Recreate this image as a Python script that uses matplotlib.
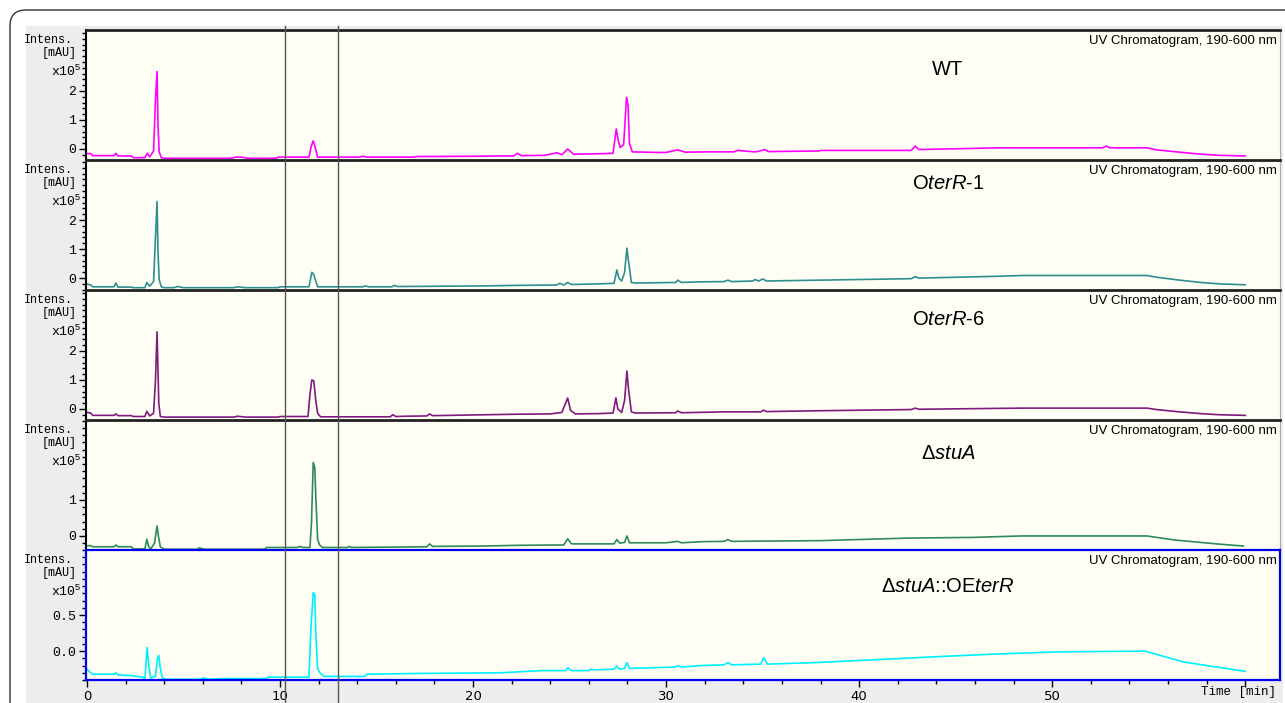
import matplotlib.pyplot as plt
import matplotlib.transforms as mtransforms
from matplotlib.patches import Rectangle, FancyBboxPatch
from matplotlib.lines import Line2D
from matplotlib.ticker import MultipleLocator, FormatStrFormatter

plt.rcParams['mathtext.fontset'] = 'custom'
plt.rcParams['mathtext.rm'] = 'Liberation Sans'
plt.rcParams['mathtext.it'] = 'Liberation Sans:italic'

# chromatogram traces, (time [min], intensity [x10^5 mAU])
wt = [(0.0, -0.16), (0.2, -0.16), (0.3, -0.23), (1.4, -0.23), (1.5, -0.15), (1.6, -0.24),
      (2.3, -0.24), (2.4, -0.30), (3.0, -0.30), (3.12, -0.15), (3.25, -0.27), (3.45, -0.07),
      (3.55, 1.72), (3.63, 2.67), (3.68, 0.83), (3.74, -0.1), (3.85, -0.30), (4.0, -0.32),
      (7.5, -0.32), (7.7, -0.28), (8.0, -0.28), (8.3, -0.32), (9.8, -0.32), (9.9, -0.28),
      (11.5, -0.28), (11.62, 0.10), (11.72, 0.28), (11.8, 0.1), (11.95, -0.28), (14.1, -0.28),
      (14.3, -0.25), (14.5, -0.28), (16.9, -0.28), (17.1, -0.26), (20.5, -0.25), (21.4, -0.24),
      (22.1, -0.24), (22.3, -0.15), (22.5, -0.23), (23.7, -0.22), (24.35, -0.13), (24.6, -0.2),
      (24.9, 0.0), (25.2, -0.18), (26.2, -0.17), (27.25, -0.15), (27.42, 0.69), (27.52, 0.3),
      (27.62, 0.05), (27.8, 0.15), (27.95, 1.78), (28.03, 1.5), (28.1, 0.2), (28.25, -0.1),
      (29.6, -0.12), (30.0, -0.12), (30.6, -0.03), (31.0, -0.11), (32.1, -0.1), (33.5, -0.1),
      (33.7, -0.05), (34.6, -0.1), (34.8, -0.08), (35.1, -0.02), (35.3, -0.09), (37.9, -0.07),
      (38.0, -0.05), (42.7, -0.05), (42.9, 0.1), (43.1, -0.02), (47.3, 0.04), (52.6, 0.04),
      (52.8, 0.1), (53.0, 0.04), (54.9, 0.04), (55.4, -0.03), (56.6, -0.11), (57.7, -0.18),
      (58.7, -0.22), (60.0, -0.24)]

oterr1 = [(0.0, -0.2), (0.2, -0.24), (0.3, -0.3), (1.4, -0.3), (1.5, -0.17), (1.6, -0.31),
          (2.3, -0.31), (2.4, -0.33), (3.0, -0.33), (3.1, -0.15), (3.25, -0.28), (3.45, -0.12),
          (3.55, 1.42), (3.63, 2.64), (3.68, 0.9), (3.74, -0.05), (3.85, -0.3), (4.0, -0.33),
          (4.5, -0.33), (4.7, -0.29), (5.0, -0.33), (7.6, -0.33), (7.8, -0.3), (8.2, -0.33),
          (9.9, -0.33), (10.0, -0.3), (11.5, -0.3), (11.65, 0.2), (11.75, 0.12), (11.85, -0.1),
          (11.95, -0.3), (14.3, -0.3), (14.4, -0.27), (14.6, -0.3), (15.8, -0.3), (15.9, -0.25),
          (16.1, -0.29), (20.5, -0.27), (22.3, -0.25), (24.3, -0.24), (24.5, -0.18), (24.7, -0.24),
          (24.9, -0.15), (25.1, -0.22), (26.5, -0.2), (27.3, -0.18), (27.45, 0.28), (27.55, 0.0),
          (27.7, -0.1), (27.85, 0.2), (27.97, 1.03), (28.05, 0.6), (28.2, -0.15), (28.4, -0.17),
          (30.5, -0.15), (30.6, -0.07), (30.8, -0.15), (31.7, -0.13), (33.0, -0.12), (33.2, -0.07),
          (33.4, -0.12), (34.5, -0.1), (34.6, -0.05), (34.8, -0.1), (35.0, -0.03), (35.2, -0.1),
          (38.0, -0.07), (42.7, -0.02), (42.9, 0.05), (43.1, 0.0), (47.0, 0.06), (48.5, 0.09),
          (54.9, 0.09), (55.4, 0.03), (56.6, -0.07), (57.7, -0.15), (58.7, -0.2), (60.0, -0.23)]

oterr6 = [(0.0, -0.12), (0.2, -0.14), (0.3, -0.22), (1.4, -0.22), (1.5, -0.17), (1.6, -0.23),
          (2.3, -0.23), (2.4, -0.26), (3.0, -0.26), (3.1, -0.08), (3.25, -0.24), (3.45, -0.15),
          (3.55, 1.0), (3.63, 2.66), (3.68, 1.3), (3.72, 0.2), (3.8, -0.26), (4.0, -0.28),
          (7.6, -0.28), (7.8, -0.25), (8.2, -0.28), (9.9, -0.28), (10.0, -0.26), (11.45, -0.26),
          (11.55, 0.5), (11.65, 1.0), (11.75, 0.97), (11.85, 0.3), (11.95, -0.15), (12.1, -0.27),
          (15.7, -0.27), (15.85, -0.2), (16.0, -0.26), (16.5, -0.25), (17.6, -0.24), (17.75, -0.17),
          (17.9, -0.23), (20.5, -0.2), (22.3, -0.18), (24.0, -0.17), (24.6, -0.12), (24.9, 0.38),
          (25.05, -0.05), (25.3, -0.17), (26.5, -0.16), (27.25, -0.14), (27.4, 0.38), (27.5, 0.0),
          (27.7, -0.12), (27.85, 0.3), (27.97, 1.31), (28.05, 0.7), (28.2, -0.1), (28.4, -0.14),
          (30.5, -0.13), (30.6, -0.07), (30.8, -0.13), (33.0, -0.1), (34.9, -0.1), (35.05, -0.04),
          (35.2, -0.09), (38.0, -0.06), (42.7, -0.02), (42.9, 0.03), (43.1, -0.01), (48.5, 0.03),
          (54.9, 0.03), (55.4, -0.02), (56.6, -0.1), (57.7, -0.16), (58.7, -0.2), (60.0, -0.22)]

dstua = [(0.0, -0.27), (0.2, -0.27), (0.3, -0.3), (1.4, -0.3), (1.5, -0.25), (1.6, -0.3),
         (2.3, -0.3), (2.4, -0.36), (3.0, -0.36), (3.1, -0.09), (3.2, -0.3), (3.3, -0.36),
         (3.5, -0.2), (3.63, 0.28), (3.7, 0.0), (3.8, -0.3), (4.0, -0.37), (5.7, -0.37),
         (5.8, -0.33), (6.1, -0.37), (9.2, -0.37), (9.3, -0.32), (10.9, -0.32), (11.0, -0.29),
         (11.2, -0.32), (11.55, -0.32), (11.63, 0.36), (11.72, 2.04), (11.8, 1.9), (11.85, 1.14),
         (11.95, -0.1), (12.05, -0.25), (12.2, -0.32), (13.5, -0.32), (13.6, -0.29), (13.7, -0.32),
         (17.6, -0.3), (17.75, -0.22), (17.9, -0.29), (20.5, -0.28), (22.3, -0.26), (24.7, -0.25),
         (24.9, -0.08), (25.1, -0.22), (27.3, -0.22), (27.45, -0.1), (27.6, -0.2), (27.85, -0.18),
         (27.97, 0.0), (28.1, -0.19), (30.0, -0.19), (30.6, -0.15), (30.8, -0.19), (31.8, -0.16),
         (33.0, -0.15), (33.2, -0.1), (33.4, -0.15), (38.0, -0.13), (42.5, -0.06), (45.9, -0.04),
         (48.4, 0.0), (54.9, 0.0), (56.3, -0.11), (58.5, -0.22), (59.9, -0.28)]

dstua_oe = [(0.0, -0.25), (0.15, -0.29), (0.3, -0.32), (1.4, -0.32), (1.5, -0.3), (1.6, -0.33),
            (2.3, -0.34), (2.9, -0.36), (3.0, -0.39), (3.05, -0.2), (3.12, 0.05), (3.2, -0.2),
            (3.3, -0.37), (3.55, -0.35), (3.65, -0.1), (3.72, -0.06), (3.78, -0.2), (3.9, -0.37),
            (4.1, -0.39), (5.9, -0.39), (6.0, -0.37), (6.3, -0.39), (7.0, -0.38), (9.3, -0.38),
            (9.4, -0.36), (11.5, -0.36), (11.6, 0.3), (11.72, 0.81), (11.8, 0.78), (11.85, 0.27),
            (11.95, -0.25), (12.1, -0.31), (12.3, -0.35), (14.4, -0.35), (14.5, -0.32), (17.0, -0.31),
            (21.4, -0.30), (23.6, -0.27), (24.8, -0.27), (24.9, -0.23), (25.1, -0.27), (26.0, -0.27),
            (26.1, -0.25), (26.3, -0.26), (27.3, -0.25), (27.45, -0.21), (27.6, -0.25), (27.85, -0.24),
            (27.97, -0.16), (28.1, -0.24), (30.5, -0.22), (30.6, -0.2), (30.8, -0.22), (31.8, -0.2),
            (33.0, -0.19), (33.2, -0.16), (33.4, -0.19), (34.9, -0.18), (35.05, -0.09), (35.25, -0.18),
            (37.6, -0.16), (40.4, -0.125), (43.8, -0.08), (47.1, -0.04), (50.4, -0.01), (54.8, 0.0),
            (55.6, -0.06), (56.8, -0.15), (58.5, -0.22), (60.0, -0.28)]

traces = [wt, oterr1, oterr6, dstua, dstua_oe]
names = ['WT', 'O$\\mathit{terR}$-1', 'O$\\mathit{terR}$-6', 'Δ$\\mathit{stuA}$',
         'Δ$\\mathit{stuA}$::OE$\\mathit{terR}$']
colors = ['#ff00ff', '#2f8f8f', '#7f1a7f', '#2e8b57', '#00f0ff']
ylims = [(-0.38, 4.1), (-0.41, 4.07), (-0.38, 4.1), (-0.39, 3.22), (-0.40, 1.40)]
yticks = [[0, 1, 2], [0, 1, 2], [0, 1, 2], [0, 1], [0.0, 0.5]]
yminor = [0.2, 0.2, 0.2, 0.2, 0.1]
name_y = [0.695, 0.82, 0.77, 0.74, 0.72]
marks = [10.28, 13.02]

W, H = 1285, 703
fig = plt.figure(figsize=(W / 100, H / 100), dpi=100)
fig.patch.set_facecolor('white')
pix = mtransforms.IdentityTransform()

# rounded outer frame and gray window
fig.add_artist(FancyBboxPatch((10, -30), 1320, H - 10 + 30, boxstyle='round,pad=0,rounding_size=16',
                              transform=pix, fc='white', ec='#333333', lw=1, zorder=-3))
fig.add_artist(Rectangle((26, 0), W - 26 - 2, H - 26, transform=pix, fc='#ededed', ec='none', zorder=-2))

axes = []
for i, tr in enumerate(traces):
    top = 30 + 130 * i
    ax = fig.add_axes([86 / W, 1 - (top + 130) / H, (1280 - 86) / W, 130 / H])
    ax.set_facecolor('#fefef4')
    t = [p[0] for p in tr]
    y = [p[1] for p in tr]
    ax.plot(t, y, color=colors[i], lw=1.2)
    ax.set_xlim(-0.05, 61.8)
    ax.set_ylim(*ylims[i])
    ax.set_yticks(yticks[i])
    if i == 4:
        ax.yaxis.set_major_formatter(FormatStrFormatter('%.1f'))
    ax.yaxis.set_minor_locator(MultipleLocator(yminor[i]))
    ax.tick_params(axis='y', which='major', direction='out', length=5, width=1, pad=2, labelsize=9.5)
    ax.tick_params(axis='y', which='minor', direction='out', length=3, width=1)
    for lbl in ax.get_yticklabels():
        lbl.set_fontfamily('Liberation Mono')
    ax.xaxis.set_major_locator(MultipleLocator(10))
    ax.xaxis.set_minor_locator(MultipleLocator(2))
    if i < 4:
        ax.tick_params(axis='x', which='both', bottom=False, labelbottom=False)
        ax.spines['top'].set_color('#222222')
        ax.spines['top'].set_linewidth(2)
        ax.spines['left'].set_color('black')
        ax.spines['left'].set_linewidth(1.5)
        ax.spines['right'].set_color('#aaaaaa')
        ax.spines['right'].set_linewidth(0.8)
        ax.spines['bottom'].set_visible(False)
    else:
        for s in ax.spines.values():
            s.set_color('#0000ee')
            s.set_linewidth(1.6)
        ax.tick_params(axis='x', which='major', direction='out', length=5, width=1, pad=2, labelsize=9.5)
        ax.tick_params(axis='x', which='minor', direction='out', length=3, width=1)
        ax.set_xticks([0, 10, 20, 30, 40, 50, 60])
        ax.set_xticklabels(['0', '10', '20', '30', '40', '50', ''])
    ax.text(0.997, 0.965, 'UV Chromatogram, 190-600 nm', transform=ax.transAxes, ha='right', va='top',
            fontsize=9.5, family='Liberation Sans')
    ax.text(0.722, name_y[i], names[i], transform=ax.transAxes, ha='center', va='center',
            fontsize=14.5, family='Liberation Sans')
    ax.text(-0.011, 0.925, 'Intens.', transform=ax.transAxes, ha='right', va='center',
            fontsize=8.5, family='Liberation Mono')
    ax.text(-0.008, 0.825, '[mAU]', transform=ax.transAxes, ha='right', va='center',
            fontsize=8.5, family='Liberation Mono')
    ax.text(-0.004, 0.68, 'x10$^5$', transform=ax.transAxes, ha='right', va='center',
            fontsize=9.5, family='Liberation Mono')
    axes.append(ax)

# marker lines over the whole window
blend = mtransforms.blended_transform_factory(axes[-1].transData, fig.transFigure)
for m in marks:
    fig.add_artist(Line2D([m, m], [0, 1 - 26 / H], transform=blend, color='#555555', lw=1, zorder=5))

fig.text(1276 / W, 1 - 692 / H, 'Time [min]', ha='right', va='center', fontsize=9, family='Liberation Mono')

fig.savefig('out.png', dpi=100)
